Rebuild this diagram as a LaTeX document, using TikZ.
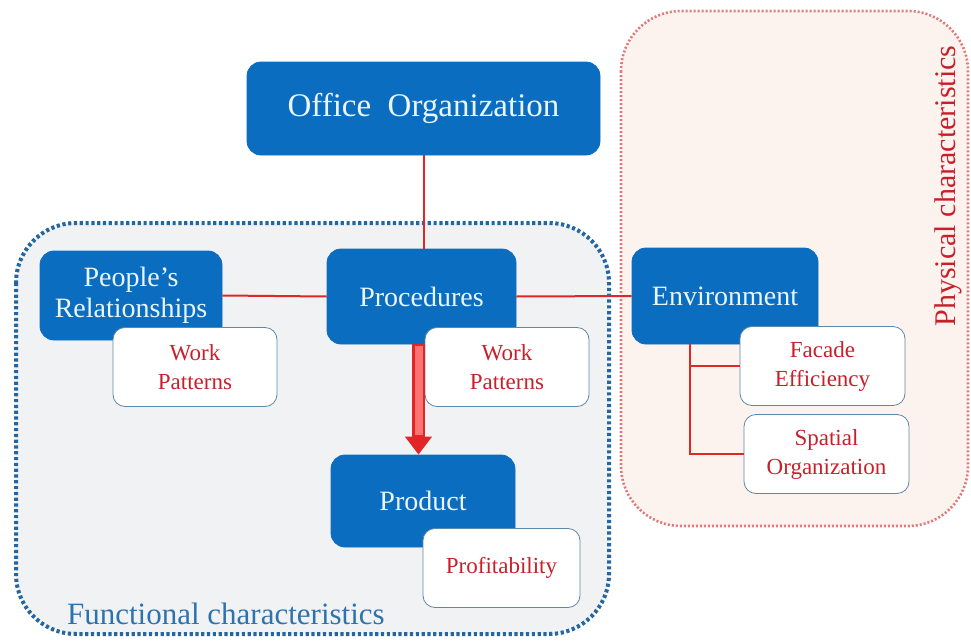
\documentclass[tikz,border=0pt]{standalone}
\usepackage{fontspec}
\setmainfont{Liberation Serif}
\usetikzlibrary{arrows.meta, positioning, calc}

\definecolor{boxblue}{HTML}{0B6DBF}
\definecolor{boxtext}{HTML}{EAF6FF}
\definecolor{linered}{HTML}{E02626}
\definecolor{labred}{HTML}{C8202A}
\definecolor{subedge}{HTML}{5E88A8}
\definecolor{funcfill}{HTML}{F1F2F4}
\definecolor{funcedge}{HTML}{2466A0}
\definecolor{physfill}{HTML}{FDF3EE}
\definecolor{physedge}{HTML}{E07A7A}
\definecolor{functext}{HTML}{2E72AE}

\begin{document}
\begin{tikzpicture}[
    x=0.5pt, y=-0.5pt,
    mainbox/.style={draw=boxblue, fill=boxblue, rounded corners=7pt, text=boxtext,
      align=center, inner sep=2pt, font=\fontsize{14}{15.5}\selectfont},
    subbox/.style={draw=subedge, fill=white, rounded corners=6pt, text=labred,
      align=center, minimum width=82pt, minimum height=39.5pt, inner sep=2pt,
      font=\fontsize{11.5}{14.5}\selectfont},
    link/.style={draw=linered, line width=1pt},
    funcarea/.style={draw=funcedge, fill=funcfill, line width=2pt,
      dash pattern=on 1.6pt off 1.3pt, rounded corners=30pt},
    physarea/.style={draw=physedge, fill=physfill, line width=1.3pt,
      dash pattern=on 1pt off 1pt, rounded corners=30pt}
  ]
  \useasboundingbox (0,0) rectangle (971,643);

  % Zonas
  \draw[physarea] (621,11) rectangle (968,526);
  \draw[funcarea] (16,223) rectangle (609,634);
  \node[text=labred, rotate=90, font=\fontsize{15}{18}\selectfont] (physlabel) at (948,186) {Physical characteristics};
  \node[text=functext, anchor=west, font=\fontsize{15.5}{18}\selectfont] (funclabel) at (60,614) {Functional characteristics};

  % Nodos
  \node[mainbox, minimum width=176.5pt, minimum height=46.5pt, font=\fontsize{16.5}{18}\selectfont] (office) at (423.5,108.5) {Office\ \ Organization};
  \node[mainbox, minimum width=94.5pt, minimum height=47.5pt] (proc) at (421.5,296.5) {Procedures};
  \node[mainbox, minimum width=91pt, minimum height=44.5pt] (people) at (131,295.5) {People’s\\Relationships};
  \node[mainbox, minimum width=92pt, minimum height=46pt] (prod) at (423,501) {Product};
  \node[mainbox, minimum width=93pt, minimum height=48pt] (env) at (725,296) {Environment};

  \node[subbox] (wp1) at (195,367) {Work\\Patterns};
  \node[subbox] (wp2) at (507,367) {Work\\Patterns};
  \node[subbox, minimum width=78.5pt] (profit) at (501.5,568) {Profitability};
  \node[subbox, minimum width=82.5pt] (facade) at (822.5,366) {Facade\\Efficiency};
  \node[subbox, minimum width=82.5pt] (spatial) at (826.5,454) {Spatial\\Organization};

  % Conexiones
  \draw[link] (office.south) -- (office.south |- proc.north);
  \draw[link] (people.east) -- (proc.west);
  \draw[link] (proc.east) -- (env.west);
  \coordinate (trunk) at ($(env.south west)+(58,0)$);
  \draw[link] (trunk) |- (facade.west);
  \draw[link] (trunk) |- (spatial.west);

  % Flecha gruesa
  \coordinate (arrtop) at ($(proc.south)+(-3,0)$);
  \draw[linered, line width=6.5pt, -{Triangle[width=13pt, length=9pt]}] (arrtop) -- (arrtop |- prod.north);
  \draw[red!55, line width=4pt] ($(arrtop)+(0,2)$) -- ($(arrtop |- prod.north)+(0,-20)$);
\end{tikzpicture}
\end{document}
